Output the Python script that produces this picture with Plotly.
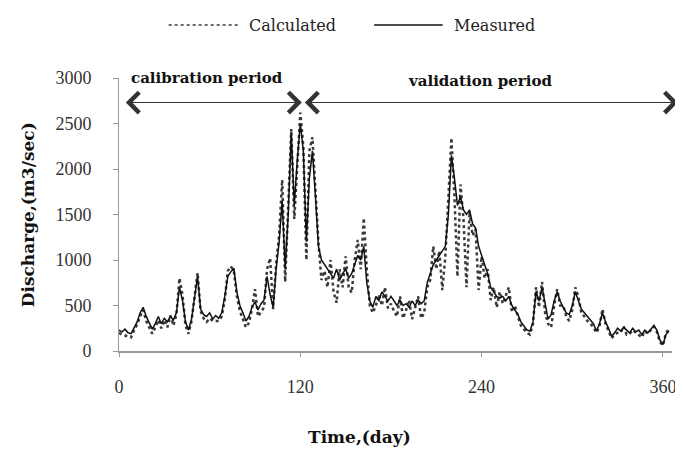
import plotly.graph_objects as go

days = list(range(0, 366, 2))

measured = [
    230, 210, 240, 200, 190, 260, 320, 420, 480, 380,
    310, 240, 300, 380, 300, 360, 320, 380, 340, 420,
    700, 560, 320, 230, 350, 560, 820, 460, 400, 380,
    420, 350, 390, 360, 420, 600, 820, 870, 910, 650,
    500, 420, 330, 380, 480, 540, 450, 520, 560, 820,
    620, 480, 900, 1200, 1650, 900, 1500, 2400, 1600, 2100,
    2500, 2200, 1200, 1900, 2200, 1700, 1150, 1000, 950, 900,
    850, 800, 900, 780, 850, 900, 800, 850, 950, 1050,
    1000, 1150, 750, 550, 480, 600, 550, 650, 600, 550,
    600, 550, 500, 560, 500, 520, 480, 550, 500, 560,
    520, 550, 750, 850, 950, 1000, 1050, 1100, 1150, 1500,
    2150, 1900, 1600, 1700, 1550, 1500, 1550, 1400, 1350, 1150,
    1050, 950, 850, 700, 650, 600, 580, 600, 550, 600,
    500, 450, 400, 320, 280, 230, 220, 320, 650, 550,
    700, 500, 350, 400, 550, 650, 550, 480, 420, 400,
    500, 650, 550, 460, 420, 380, 350, 300, 220, 300,
    420, 320, 250, 160, 200, 250, 220, 260, 230, 200,
    250, 210, 230, 180, 230, 200, 240, 280, 230, 120,
    70, 180, 220,
]

calculated = [
    200, 180, 170, 160, 150, 230, 290, 380, 450, 330,
    260, 190, 260, 340, 250, 340, 260, 390, 280, 400,
    800, 620, 280, 190, 330, 600, 860, 440, 360, 320,
    360, 330, 330, 330, 380, 560, 880, 930, 880, 600,
    440, 360, 260, 310, 460, 680, 380, 430, 480, 900,
    1020, 460, 960, 1280, 1880, 760, 1600, 2440, 1450, 2000,
    2620, 2250, 1000, 2200, 2350, 1780, 1190, 780, 880, 700,
    1000, 650, 530, 900, 700, 1040, 700, 640, 1000, 1220,
    900, 1460, 900, 500, 420, 500, 620, 500, 700, 470,
    520, 440, 380, 600, 360, 450, 560, 350, 480, 600,
    360, 420, 700, 780, 1150, 900, 1100, 670, 1040, 1700,
    2340, 1700, 820, 1830, 1450, 700, 1530, 1270, 1340, 670,
    1040, 800, 900, 560, 700, 480, 650, 520, 600, 700,
    430, 500, 380, 280, 240, 200, 180, 300, 700, 480,
    760, 420, 300, 260, 500, 680, 500, 500, 380, 330,
    450, 700, 600, 420, 380, 330, 300, 260, 200, 270,
    460, 300, 220, 140, 180, 200, 200, 270, 180, 190,
    230, 200, 180, 150, 220, 190, 230, 270, 210, 100,
    60, 200, 240,
]

y_ticks = [0, 500, 1000, 1500, 2000, 2500, 3000]
x_ticks = [0, 120, 240, 360]

serif = "DejaVu Serif"
tick_font = dict(family="Liberation Serif", size=18, color="#333333")

fig = go.Figure()
fig.add_trace(go.Scatter(
    x=days, y=calculated, mode="lines", name="Calculated",
    line=dict(color="#3a3a3a", width=2.5, dash="dot"),
))
fig.add_trace(go.Scatter(
    x=days, y=measured, mode="lines", name="Measured",
    line=dict(color="#111111", width=1.5),
))

# the page body adds an 8px offset, so the figure is 8px smaller on each side
fig.update_layout(
    width=675, height=442,
    margin=dict(l=111, r=7, t=70, b=99),
    paper_bgcolor="white", plot_bgcolor="white",
    showlegend=False,
    xaxis=dict(
        range=[0, 366], tickvals=x_ticks, ticktext=[str(v) for v in x_ticks],
        showgrid=False, zeroline=False, showline=True, linecolor="#999999", linewidth=2,
        ticks="outside", ticklen=4, tickcolor="#999999", tickfont=tick_font,
        ticklabelstandoff=14,
    ),
    yaxis=dict(
        range=[0, 3000], tickvals=y_ticks,
        showgrid=False, zeroline=False, showline=True, linecolor="#999999", linewidth=1,
        ticks="outside", ticklen=5, tickcolor="#999999", tickfont=tick_font,
        ticklabelstandoff=18,
    ),
)

# period arrows
arrow_color = "#333333"
for x_end, x_start in [(121, 3.5), (370, 122)]:
    fig.add_annotation(x=x_end, y=2730, ax=x_start, ay=2730, xref="x", yref="y", axref="x", ayref="y",
                       text="", showarrow=True, arrowside="end+start", arrowhead=4, startarrowhead=4,
                       arrowsize=3.6, startarrowsize=3.6, arrowwidth=1.1, arrowcolor=arrow_color)
fig.add_annotation(x=58, y=3000, xref="x", yref="y", text="<b>calibration period</b>",
                   xanchor="center", yanchor="middle",
                   showarrow=False, font=dict(family=serif, size=15, color="#111111"))
fig.add_annotation(x=239, y=2965, xref="x", yref="y", text="<b>validation period</b>",
                   xanchor="center", yanchor="middle",
                   showarrow=False, font=dict(family=serif, size=15, color="#111111"))

# axis titles
fig.add_annotation(x=-0.165, y=0.5, xref="paper", yref="paper", text="<b>Discharge,(m3/sec)</b>",
                   xanchor="center", yanchor="middle",
                   textangle=-90, showarrow=False, font=dict(family=serif, size=17, color="#111111"))
fig.add_annotation(x=0.4345, y=-0.315, xref="paper", yref="paper", text="<b>Time,(day)</b>",
                   xanchor="center", yanchor="middle",
                   showarrow=False, font=dict(family=serif, size=17, color="#111111"))

# legend
leg_y = 1.194
fig.add_shape(type="line", xref="paper", yref="paper", x0=0.0898, x1=0.2154, y0=leg_y, y1=leg_y,
              line=dict(color="#3a3a3a", width=1.5, dash="dot"))
fig.add_annotation(x=0.2316, y=leg_y, xref="paper", yref="paper", text="Calculated",
                   xanchor="left", yanchor="middle",
                   showarrow=False, font=dict(family=serif, size=16, color="#222222"))
fig.add_shape(type="line", xref="paper", yref="paper", x0=0.4614, x1=0.5853, y0=leg_y, y1=leg_y,
              line=dict(color="#111111", width=1.5))
fig.add_annotation(x=0.6014, y=leg_y, xref="paper", yref="paper", text="Measured",
                   xanchor="left", yanchor="middle",
                   showarrow=False, font=dict(family=serif, size=16, color="#222222"))

fig.write_html("out.html")
